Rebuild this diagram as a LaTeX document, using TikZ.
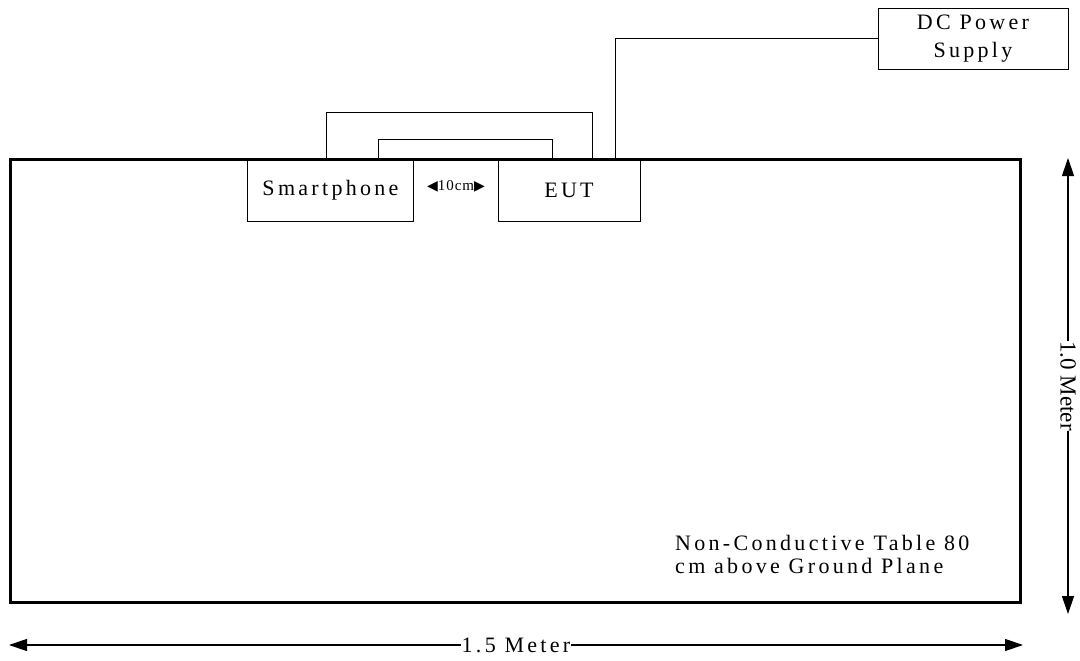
\documentclass[tikz,border=0pt]{standalone}
\usepackage{fontspec}
\setmainfont{Liberation Serif}
\newfontfamily\spacedfont{Liberation Serif}[LetterSpace=15]
\newfontfamily\smallspaced{Liberation Serif}[LetterSpace=6]
\newfontfamily\trifont{DejaVu Sans}
\usetikzlibrary{arrows.meta, positioning}
\tikzset{
  labelbox/.style={draw, line width=0.9pt, inner sep=0pt, font=\spacedfont\fontsize{22}{28}\selectfont},
  cable/.style={line width=0.8pt},
  dimarrow/.style={line width=1.2pt, {Triangle[length=18pt,width=12pt]}-{Triangle[length=18pt,width=12pt]}},
  dimtext/.style={fill=white, inner sep=0.5pt, font=\spacedfont\fontsize{22}{24}\selectfont}
}
\newcommand{\gaptri}[1]{{\trifont\fontsize{14}{14}\selectfont#1}}
\begin{document}
\begin{tikzpicture}[x=1pt, y=-1pt]
  \useasboundingbox (0,0) rectangle (1080,661);
  \node[labelbox, minimum width=166pt, minimum height=61pt] (phone) at (330.5,190.5) {Smartphone};
  \node[labelbox, minimum width=142pt, minimum height=61pt] (eut) at (569,190.5) {EUT};
  \node[labelbox, minimum width=190pt, minimum height=61pt, align=center] (dcps) at (973,38.5) {DC Power\\Supply};
  \node[font=\smallspaced\fontsize{15}{16}\selectfont, inner sep=0pt] (gap) at (456,186) {\gaptri{◀}10cm\gaptri{▶}};
  % cables
  \draw[cable] ([xshift=79pt]phone.north west) |- ++(0,-47) -| ([xshift=95pt]eut.north west);
  \draw[cable] ([xshift=131pt]phone.north west) |- ++(0,-20) -| ([xshift=55pt]eut.north west);
  \draw[cable] ([xshift=118pt]eut.north west) |- (dcps.west);
  % table
  \draw[line width=3pt] (10,159.5) rectangle (1020,602.5);
  \node[anchor=north west, align=left, inner sep=0pt, font=\spacedfont\fontsize{22}{23}\selectfont] (tabletext) at (675,535) {Non-Conductive Table 80\\cm above Ground Plane};
  % dimensions
  \coordinate (vtop) at (1068,158);
  \coordinate (vbot) at (1068,614);
  \coordinate (hleft) at (9,645);
  \coordinate (hright) at (1023,645);
  \draw[dimarrow] (vtop) -- (vbot) node[midway, dimtext, font=\fontsize{23}{24}\selectfont, rotate=-90] (vlabel) {1.0 Meter};
  \draw[dimarrow] (hleft) -- (hright) node[midway, dimtext] (hlabel) {1.5 Meter};
\end{tikzpicture}
\end{document}
